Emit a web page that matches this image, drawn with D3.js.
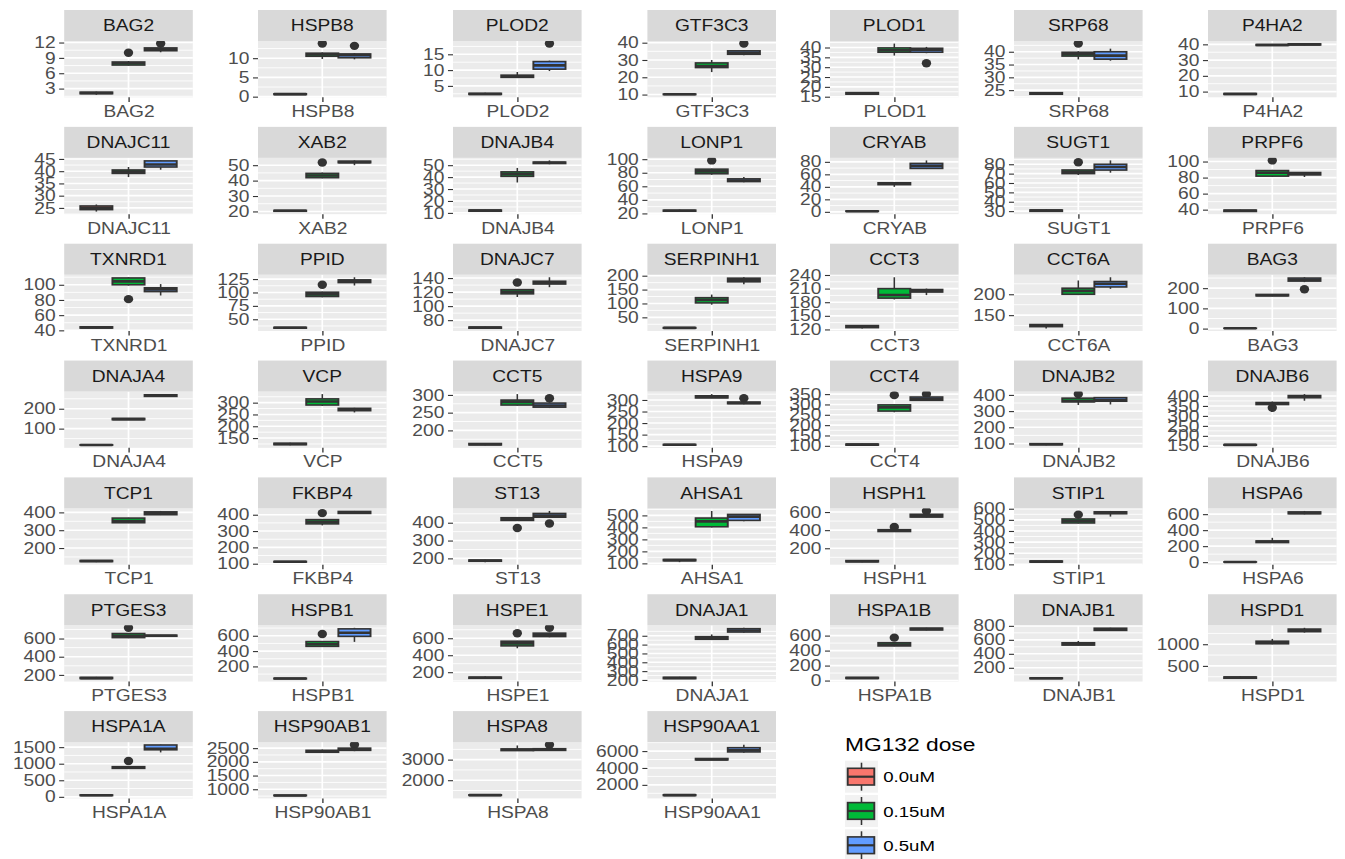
<!DOCTYPE html>
<html>
<head>
<meta charset="utf-8">
<script src="https://cdn.jsdelivr.net/npm/d3@7"></script>
<style>
  html, body { margin: 0; padding: 0; background: #ffffff; }
  svg { display: block; }
  text { font-family: "Liberation Sans", Arial, Helvetica, sans-serif; }
</style>
</head>
<body>
<svg id="chart" width="1345" height="859"></svg>
<script>
// ---- data -------------------------------------------------------------
const genes = [
  "BAG2", "HSPB8", "PLOD2", "GTF3C3", "PLOD1", "SRP68", "P4HA2",
  "DNAJC11", "XAB2", "DNAJB4", "LONP1", "CRYAB", "SUGT1", "PRPF6",
  "TXNRD1", "PPID", "DNAJC7", "SERPINH1", "CCT3", "CCT6A", "BAG3",
  "DNAJA4", "VCP", "CCT5", "HSPA9", "CCT4", "DNAJB2", "DNAJB6",
  "TCP1", "FKBP4", "ST13", "AHSA1", "HSPH1", "STIP1", "HSPA6",
  "PTGES3", "HSPB1", "HSPE1", "DNAJA1", "HSPA1B", "DNAJB1", "HSPD1",
  "HSPA1A", "HSP90AB1", "HSPA8", "HSP90AA1"
];

const doses = ["0.0uM", "0.15uM", "0.5uM"];
const doseColors = ["#F8766D", "#00BA38", "#619CFF"];

// y-axis breaks for each gene panel
const yTicks = [
  [3, 6, 9, 12], [0, 5, 10], [5, 10, 15], [10, 20, 30, 40],
  [15, 20, 25, 30, 35, 40], [25, 30, 35, 40], [10, 20, 30, 40],
  [25, 30, 35, 40, 45], [20, 30, 40, 50], [10, 20, 30, 40, 50],
  [20, 40, 60, 80, 100], [0, 20, 40, 60, 80], [30, 40, 50, 60, 70, 80],
  [40, 60, 80, 100],
  [40, 60, 80, 100], [50, 75, 100, 125], [80, 100, 120, 140],
  [50, 100, 150, 200], [120, 150, 180, 210, 240], [150, 200], [0, 100, 200],
  [100, 200], [150, 200, 250, 300], [200, 250, 300],
  [100, 150, 200, 250, 300], [100, 150, 200, 250, 300, 350],
  [100, 200, 300, 400], [150, 200, 250, 300, 350, 400],
  [200, 300, 400], [100, 200, 300, 400], [200, 300, 400],
  [100, 200, 300, 400, 500], [200, 400, 600],
  [100, 200, 300, 400, 500, 600], [0, 200, 400, 600],
  [200, 400, 600], [200, 400, 600], [200, 400, 600],
  [200, 300, 400, 500, 600, 700], [0, 200, 400, 600],
  [200, 400, 600, 800], [500, 1000],
  [0, 500, 1000, 1500], [1000, 1500, 2000, 2500], [2000, 3000],
  [2000, 4000, 6000]
];

// box summaries: [lower whisker, Q1, median, Q3, upper whisker]
const dose0 = [
  [1.8, 2.0, 2.15, 2.3, 2.4], [0.5, 0.55, 0.65, 0.75, 0.8],
  [2.2, 2.3, 2.45, 2.65, 2.8], [9.9, 10.0, 10.15, 10.3, 10.4],
  [16.0, 16.3, 16.7, 17.1, 17.3], [23.2, 23.4, 23.7, 24.0, 24.3],
  [8.0, 8.2, 8.5, 8.8, 9.0],
  [23.5, 24.3, 25.0, 25.8, 26.4], [19.9, 20.1, 20.4, 20.7, 20.9],
  [11.1, 11.4, 11.9, 12.4, 12.6], [22.7, 23.3, 24.0, 24.8, 25.5],
  [0.4, 0.7, 1.0, 1.4, 1.6], [29.5, 29.8, 30.5, 31.2, 31.7],
  [37.6, 37.8, 38.6, 39.5, 40.0],
  [42.5, 43.0, 43.8, 44.6, 45.0], [32.9, 33.4, 34.2, 35.0, 35.5],
  [68.2, 68.5, 69.5, 70.2, 70.7], [10, 11, 12, 13, 14],
  [122.2, 124, 126, 128.5, 129.5], [118.2, 122.5, 125, 127.5, 128.5],
  [0.8, 1.2, 1.5, 2.0, 2.3],
  [16.3, 17, 18, 19, 20], [119.4, 122, 125, 128, 130],
  [158, 159, 161, 163, 164], [103.8, 104.5, 106, 107.5, 108.5],
  [102.6, 103.5, 106, 108.5, 110], [88.8, 92, 95, 99, 101],
  [152.8, 153.5, 155, 156.5, 158],
  [120.9, 124, 127, 130, 132], [109.6, 110, 112, 114, 116],
  [178.9, 184, 187, 191, 193], [110.2, 122, 127, 132, 136],
  [46.8, 50, 57, 64, 68], [120, 121, 125, 130, 135], [0, 1, 2, 3, 4],
  [155, 160, 165, 172, 178], [36, 38, 42, 46, 50],
  [120, 128, 135, 142, 148], [211, 215, 222, 230, 235],
  [21, 28, 35, 42, 48], [40, 45, 50, 55, 60], [198, 215, 230, 245, 260],
  [30, 38, 48, 58, 65], [760, 765, 775, 785, 795],
  [1240, 1260, 1275, 1290, 1300], [700, 740, 785, 830, 860]
];

const dose015 = [
  [7.5, 7.6, 7.95, 8.2, 8.4], [9.8, 10.5, 11.0, 11.3, 11.5],
  [7.5, 7.7, 8.0, 8.4, 9.4], [23, 25.6, 26.5, 28.3, 30],
  [35.9, 37.6, 38.6, 39.8, 42.0], [37.0, 38.3, 39.0, 39.8, 40.2],
  [39.0, 39.3, 39.6, 39.9, 40.2],
  [37.6, 39.1, 39.8, 40.5, 41.7], [41.5, 41.9, 43.3, 44.7, 45.2],
  [35.5, 40.6, 42.5, 44.4, 47.7], [77, 78.5, 82.0, 85.3, 86],
  [40, 43.5, 45, 46.5, 47], [68.5, 70.0, 72.0, 73.9, 74.5],
  [80.7, 81.8, 86.0, 88.8, 89.5],
  [99, 100, 104.5, 109, 109.9], [91, 92.5, 96.5, 100.5, 101.5],
  [113, 117.5, 120.5, 123.5, 124.5], [95.5, 102, 113, 121, 132],
  [186, 189, 196, 210, 235], [198, 200, 208, 214.5, 233],
  [160, 162, 165, 169, 171],
  [144, 145, 148, 151, 152], [286, 290, 305, 316, 336.2],
  [270, 271.5, 280.5, 285.5, 302.3], [308, 309, 313, 318, 325.4],
  [262, 268, 286, 298, 300], [337.5, 357, 363, 380, 385],
  [355, 357, 361, 367, 372],
  [340, 342, 352, 368, 370], [334.7, 344, 357, 370, 372],
  [410, 413, 420, 428, 432], [400, 405, 450, 478, 537],
  [382, 385, 393, 405, 408], [468, 472, 490, 508, 512],
  [240, 245, 255, 265, 304],
  [605, 610, 630, 655, 658], [455, 462, 490, 524, 528],
  [482, 510, 540, 565, 570], [655, 660, 672, 690, 715],
  [458, 462, 480, 505, 510], [520, 525, 540, 558, 584],
  [1000, 1010, 1040, 1070, 1123],
  [850, 860, 880, 910, 915], [2340, 2350, 2380, 2420, 2450],
  [3420, 3440, 3480, 3520, 3690], [4940, 4960, 5020, 5120, 5140]
];

const dose05 = [
  [10.1, 10.4, 10.7, 10.95, 11.2], [9.7, 10.1, 10.8, 11.1, 11.3],
  [9.7, 10.3, 11.5, 12.7, 13.0], [32.8, 33.3, 34.2, 35.3, 35.8],
  [37.1, 37.6, 38.9, 39.6, 40.3], [36.5, 37.1, 38.5, 40.0, 41.2],
  [39.4, 39.6, 40.0, 40.3, 40.5],
  [40.6, 41.7, 42.7, 44.2, 44.4], [50.0, 51.6, 52.0, 52.6, 53.1],
  [50.8, 51.4, 52.0, 52.6, 54.0], [66, 67.0, 68.5, 71.0, 73.6],
  [68.5, 69.5, 73.5, 77.5, 82.3], [71.0, 73.8, 77.0, 80.0, 84.1],
  [80.7, 83.3, 84.8, 86.3, 86.8],
  [85.9, 91.0, 94.0, 96.0, 100.9], [113, 118.5, 121.5, 123.5, 128.4],
  [127, 131.5, 133.5, 135.5, 141.15], [169, 178, 183, 191, 194.4],
  [195.7, 202.5, 205, 208, 210], [213, 217.5, 225, 230.5, 240.7],
  [230, 235, 242, 250, 254],
  [260, 262, 266, 270, 273.5], [258.6, 266, 270, 276, 278],
  [263, 265.5, 270, 277, 279], [281, 284, 287, 291, 293],
  [317, 320, 327, 336, 338], [341, 361, 369, 383, 386],
  [376, 391, 396, 402, 409.2],
  [385, 387, 395, 403, 408], [405, 408, 413, 420, 423.1],
  [428, 431, 440, 452, 466], [452, 458, 490, 508, 512],
  [541, 545, 555, 575, 580], [529.4, 555, 565, 572, 580],
  [598, 605, 615, 628, 640],
  [620, 625, 630, 637, 640], [520, 592, 640, 690, 703.7],
  [612, 620, 638, 660, 665], [735, 742, 760, 780, 790],
  [670, 675, 688, 700, 704], [730, 735, 752, 766, 772],
  [1269, 1290, 1320, 1350, 1379],
  [1341, 1420, 1450, 1565, 1575], [2390, 2420, 2460, 2500, 2510],
  [3420, 3450, 3490, 3530, 3540], [5804, 5900, 6100, 6400, 6761]
];

// points beyond the whiskers: [gene, dose, value]
const outliers = [
  ["BAG2", "0.15uM", 10.0], ["BAG2", "0.5uM", 11.8],
  ["HSPB8", "0.15uM", 13.8], ["HSPB8", "0.5uM", 13.2],
  ["PLOD2", "0.5uM", 18.4], ["GTF3C3", "0.5uM", 39.5],
  ["PLOD1", "0.5uM", 32.0], ["SRP68", "0.15uM", 43.2],
  ["XAB2", "0.15uM", 51.75], ["LONP1", "0.15uM", 98.2],
  ["SUGT1", "0.15uM", 82.2], ["PRPF6", "0.15uM", 101.4],
  ["TXNRD1", "0.15uM", 81.1], ["PPID", "0.15uM", 114.3],
  ["DNAJC7", "0.15uM", 133.75], ["BAG3", "0.5uM", 195],
  ["CCT5", "0.5uM", 290.5], ["HSPA9", "0.5uM", 307.3],
  ["CCT4", "0.15uM", 345], ["CCT4", "0.5uM", 350],
  ["DNAJB2", "0.15uM", 405], ["DNAJB6", "0.15uM", 341],
  ["FKBP4", "0.15uM", 410], ["ST13", "0.15uM", 370],
  ["ST13", "0.5uM", 396], ["HSPH1", "0.15uM", 435],
  ["HSPH1", "0.5uM", 612], ["STIP1", "0.15uM", 547],
  ["PTGES3", "0.15uM", 718], ["HSPB1", "0.15uM", 622],
  ["HSPE1", "0.15uM", 659], ["HSPE1", "0.5uM", 723],
  ["HSPA1B", "0.15uM", 573], ["HSPA1A", "0.15uM", 1083],
  ["HSP90AB1", "0.5uM", 2627], ["HSPA8", "0.5uM", 3728]
];

const legendTitle = "MG132 dose";

// ---- layout -------------------------------------------------------------
// The figure is drawn in a coordinate system that is stretched 1.2x horizontally.
const SX = 1.2;
const nCol = 7;
const colLeft = [64.2, 258, 453, 647.4, 830, 1014, 1208].map(v => v / SX);
const panelW = 128.6 / SX;
const rowPitch = 116.85, stripTop0 = 10, stripH = 31, panelH = 56.3;

const INK = "#333333", AXIS_TXT = "#4D4D4D", STRIP_TXT = "#1A1A1A";
const PANEL_BG = "#EBEBEB", STRIP_BG = "#D9D9D9";
const FONT = 16, TICK_FONT = 16;

const svg = d3.select("#chart");
const root = svg.append("g").attr("transform", `scale(${SX},1)`);

const summaries = [dose0, dose015, dose05];

function minorBreaks(ticks, domain) {
  const step = ticks.length > 1 ? ticks[1] - ticks[0] : 0;
  const ext = [ticks[0] - step, ...ticks, ticks[ticks.length - 1] + step];
  const out = [];
  for (let i = 0; i < ext.length - 1; i++) out.push((ext[i] + ext[i + 1]) / 2);
  return out.filter(v => v >= domain[0] && v <= domain[1]);
}

genes.forEach((gene, gi) => {
  const col = gi % nCol, row = Math.floor(gi / nCol);
  const sTop = stripTop0 + row * rowPitch;
  const pTop = sTop + stripH;
  const pBot = pTop + panelH;

  const stats = summaries.map(s => s[gi]);
  const outs = outliers.filter(o => o[0] === gene);
  const ext = d3.extent(stats.flat().concat(outs.map(o => o[2])));
  const pad = (ext[1] - ext[0]) * 0.05;
  const domain = [ext[0] - pad, ext[1] + pad];

  const y = d3.scaleLinear().domain(domain).range([pBot, pTop]);
  const xc = d3.scaleLinear().domain([0.4, 1.6]).range([0, panelW]);
  const xb = d3.scaleBand().domain(doses).range([xc(0.55), xc(1.45)]);
  const xg = d3.scalePoint().domain([gene]).range([0, panelW]).padding(0.5);

  const g = root.append("g").attr("transform", `translate(${colLeft[col]},0)`);

  // panel background
  g.append("rect")
    .attr("x", 0).attr("y", pTop).attr("width", panelW).attr("height", panelH)
    .attr("fill", PANEL_BG);

  // grid lines
  const ticks = yTicks[gi];
  g.append("g").selectAll("line").data(minorBreaks(ticks, domain)).join("line")
    .attr("x1", 0).attr("x2", panelW)
    .attr("y1", d => y(d)).attr("y2", d => y(d))
    .attr("stroke", "#ffffff").attr("stroke-width", 0.8);
  g.append("g").selectAll("line").data(ticks).join("line")
    .attr("x1", 0).attr("x2", panelW)
    .attr("y1", d => y(d)).attr("y2", d => y(d))
    .attr("stroke", "#ffffff").attr("stroke-width", 1.6);
  g.append("line")
    .attr("x1", xg(gene)).attr("x2", xg(gene)).attr("y1", pTop).attr("y2", pBot)
    .attr("stroke", "#ffffff").attr("stroke-width", 1.4);

  // boxplots
  doses.forEach((dose, di) => {
    const s = stats[di];
    const bx = xb(dose), bw = xb.bandwidth(), cx = bx + bw / 2;
    const bg = g.append("g");
    bg.selectAll("ellipse").data(outs.filter(o => o[1] === dose)).join("ellipse")
      .attr("cx", cx).attr("cy", d => y(d[2]))
      .attr("rx", 3.9).attr("ry", 4.2)
      .attr("fill", INK);
    bg.append("line")
      .attr("x1", cx).attr("x2", cx).attr("y1", y(s[4])).attr("y2", y(s[3]))
      .attr("stroke", INK).attr("stroke-width", 1.3);
    bg.append("line")
      .attr("x1", cx).attr("x2", cx).attr("y1", y(s[1])).attr("y2", y(s[0]))
      .attr("stroke", INK).attr("stroke-width", 1.3);
    bg.append("rect")
      .attr("x", bx).attr("width", bw)
      .attr("y", y(s[3])).attr("height", Math.max(0, y(s[1]) - y(s[3])))
      .attr("fill", doseColors[di])
      .attr("stroke", INK).attr("stroke-width", 1.6);
    bg.append("line")
      .attr("x1", bx).attr("x2", bx + bw).attr("y1", y(s[2])).attr("y2", y(s[2]))
      .attr("stroke", INK).attr("stroke-width", 2.6);
  });

  // y axis
  const ya = g.append("g")
    .call(d3.axisLeft(y).tickValues(ticks).tickSize(4.2).tickPadding(3.0)
      .tickFormat(d3.format("d")));
  ya.select(".domain").remove();
  ya.attr("font-size", null).attr("font-family", null);
  ya.selectAll("line").attr("stroke", INK).attr("stroke-width", 1.1);
  ya.selectAll("text").attr("fill", AXIS_TXT).attr("font-size", TICK_FONT);

  // x axis
  const xa = g.append("g").attr("transform", `translate(0,${pBot})`)
    .call(d3.axisBottom(xg).tickSize(4.6).tickPadding(3.6));
  xa.select(".domain").remove();
  xa.attr("font-size", null).attr("font-family", null);
  xa.selectAll("line").attr("stroke", INK).attr("stroke-width", 1.1);
  xa.selectAll("text").attr("fill", AXIS_TXT).attr("font-size", FONT);

  // facet strip
  g.append("rect")
    .attr("x", 0).attr("y", sTop).attr("width", panelW).attr("height", stripH)
    .attr("fill", STRIP_BG);
  g.append("text")
    .attr("x", panelW / 2).attr("y", sTop + stripH / 2 + 0.36 * FONT)
    .attr("text-anchor", "middle").attr("font-size", FONT).attr("fill", STRIP_TXT)
    .text(gene);
});

// ---- legend -------------------------------------------------------------
const lg = root.append("g");
const keyX = 845 / SX, keyW = 33 / SX, keyPitch = 34.3, keyTop = 760.7;
lg.append("text")
  .attr("x", keyX).attr("y", 751)
  .attr("font-size", 19).attr("fill", "#000000")
  .text(legendTitle);
doses.forEach((dose, i) => {
  const t = keyTop + i * keyPitch;
  const cx = keyX + keyW / 2;
  const bx = 847.7 / SX, bw = 26.6 / SX;
  lg.append("rect").attr("x", keyX).attr("y", t).attr("width", keyW).attr("height", 32)
    .attr("fill", "#F2F2F2");
  lg.append("line").attr("x1", cx).attr("x2", cx).attr("y1", t + 2).attr("y2", t + 30)
    .attr("stroke", INK).attr("stroke-width", 1.3);
  lg.append("rect").attr("x", bx).attr("y", t + 7.6).attr("width", bw).attr("height", 16.7)
    .attr("fill", doseColors[i]).attr("stroke", INK).attr("stroke-width", 1.6);
  lg.append("line").attr("x1", bx).attr("x2", bx + bw).attr("y1", t + 16).attr("y2", t + 16)
    .attr("stroke", INK).attr("stroke-width", 2.2);
  lg.append("text")
    .attr("x", 883.3 / SX).attr("y", t + 21.8)
    .attr("font-size", 15.5).attr("fill", "#000000")
    .text(dose);
});
</script>
</body>
</html>
